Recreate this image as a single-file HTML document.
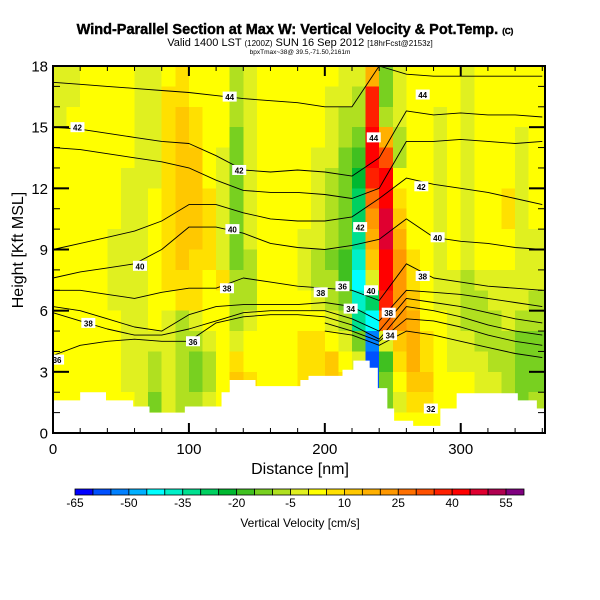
<!DOCTYPE html>
<html><head><meta charset="utf-8">
<style>
html,body{margin:0;padding:0;background:#fff;}
svg{display:block;font-family:"Liberation Sans",Arial,sans-serif;}
</style></head>
<body>
<svg id="chart" width="600" height="600" viewBox="0 0 600 600">
<rect width="600" height="600" fill="#fff"/>
<g>
<text x="295" y="34" text-anchor="middle" font-size="14.5" font-weight="bold" stroke="#000" stroke-width="0.4">Wind-Parallel Section at Max W: Vertical Velocity &amp; Pot.Temp. <tspan font-size="8">(C)</tspan></text>
<text x="300" y="46" text-anchor="middle" font-size="11">Valid 1400 LST <tspan font-size="8">(1200Z)</tspan> SUN 16 Sep 2012 <tspan font-size="8">[18hrFcst@2153z]</tspan></text>
<text x="300" y="54" text-anchor="middle" font-size="6.5">bpxTmax~38@ 39.5,-71.50,2161m</text>
</g>
<g id="field"></g>
<g id="terrain"></g>
<g id="contours"></g>
<g id="axes"></g>
<g id="cbar"></g>
<text x="300" y="474" text-anchor="middle" font-size="16">Distance [nm]</text>
<text transform="translate(23,250) rotate(-90)" text-anchor="middle" font-size="16">Height [Kft MSL]</text>
<text x="300" y="527" text-anchor="middle" font-size="12">Vertical Velocity [cm/s]</text>
</svg>
<script>
// ---- data ----
const colWidthNm = 10;
const xMaxNm = 362;
const yMaxKm = 18;
// rows from top (17-18 km) to bottom (0-1 km), 36 columns of 10 nm
const wRows = [
[-2,-2,2,2,2,2,-2,-2,2,7,2,2,2,-7,-2,2,2,2,2,2,2,-2,-2,15,-12,-2,2,2,2,2,-2,2,2,2,2,2],
[-2,-2,2,2,2,2,-2,-2,7,7,2,2,2,-7,-2,2,2,2,2,2,-2,-2,-7,35,-12,-2,2,2,2,2,-2,2,2,2,2,2],
[-2,2,2,2,2,2,-2,-2,7,12,7,2,2,-7,-2,2,2,2,2,2,-2,-7,-7,35,-7,-2,2,2,-2,2,-2,2,2,2,2,2],
[2,2,2,2,2,2,-2,-2,7,12,7,2,2,-12,-2,2,2,2,2,2,-2,-7,-12,40,15,-7,2,2,-2,2,-2,2,2,2,-2,2],
[2,2,2,2,2,2,-2,-2,7,12,12,2,-2,-12,-2,2,2,2,2,-2,-2,-12,-20,40,30,-7,2,2,-2,2,-2,2,2,2,-2,2],
[2,2,2,2,2,-2,-2,-2,7,12,12,2,-2,-15,-2,2,2,2,2,-2,-7,-12,-25,35,40,2,2,2,-2,2,-2,2,2,2,-2,2],
[2,2,2,2,2,-2,-2,2,7,12,12,7,-2,-15,-2,2,2,2,2,-2,-7,-12,-30,25,42,7,2,2,-2,2,-2,2,2,7,-2,2],
[2,2,2,2,2,-2,-2,2,7,12,12,7,-2,-15,-2,2,2,2,2,-2,-7,-15,-30,20,47,12,2,2,-2,2,-2,2,2,7,-2,2],
[2,2,2,2,-2,-2,-2,2,7,12,12,7,-2,-12,-2,2,2,2,-2,-2,-7,-15,-35,15,47,15,2,2,-2,2,-2,2,2,2,-2,-2],
[2,2,2,2,-2,-2,-2,2,7,12,7,7,-2,-12,-7,2,2,2,-2,-7,-12,-20,-40,10,42,20,7,2,-2,2,-2,2,2,2,-2,-2],
[2,2,2,2,-2,-2,-2,2,7,7,7,2,7,-7,-7,2,2,2,-2,-7,-7,-20,-45,-5,40,20,7,2,-2,-2,-7,-2,-2,-2,-2,-2],
[2,2,2,2,-2,-2,-2,2,2,7,7,2,2,-7,-7,2,2,2,2,-2,-7,-12,-40,-30,38,20,12,2,-2,-2,-7,-7,-2,-2,-2,-7],
[2,2,2,2,2,-2,-2,2,-2,-7,-2,2,2,-7,-2,2,2,2,2,2,-2,-7,-35,-45,25,20,15,2,2,-2,-7,-7,-7,-2,-7,-7],
[2,2,2,2,2,-2,-2,-2,-2,-7,-7,-2,2,-2,2,2,2,2,7,7,2,-2,-15,-55,-5,12,15,7,2,-2,-2,-7,-7,-7,-12,-12],
[2,2,2,2,2,-2,-2,-7,-2,-7,-12,-7,2,7,2,2,2,2,7,7,12,2,-5,-60,-20,7,15,7,2,-2,-2,-2,-7,-7,-12,-12],
[2,2,2,2,2,-2,-2,-7,-2,-7,-12,-7,2,12,7,2,2,2,7,7,12,7,2,-60,-15,2,12,12,2,2,2,-2,-2,-7,-12,-12],
[2,2,2,2,2,2,-2,-12,-2,-7,-7,-2,2,7,2,2,2,2,7,2,7,7,2,-30,-12,-2,7,7,2,2,2,-2,-2,-7,-12,-7],
[2,2,2,2,2,2,2,2,2,2,2,2,2,2,2,2,2,2,2,2,2,2,2,2,2,2,2,2,2,2,2,2,2,2,2,2]
];
// terrain steps: start distance (nm) and height (km)
const terrainStart = [0,20,39,59,71,97,124,130,149,182,188,213,221,233,239,246,251,265,285,297,342,356];
const terrainHeight = [1.6,2.0,1.6,1.3,1.0,1.3,2.0,2.6,2.3,2.6,2.8,3.1,3.55,3.2,2.2,1.2,0.6,0.35,1.2,1.95,1.6,1.2];
// contour heights (km) at distances 0,20,...,360 nm
const contourX = [0,20,40,60,80,100,120,140,160,180,200,220,240,260,280,300,320,340,360];
const thetaA = [17.2,17.1,17.0,16.9,16.8,16.7,16.55,16.4,16.3,16.2,16.0,16.0,18.0,17.6,17.5,17.5,17.5,17.5,17.5];
const thetaB = [15.0,14.9,14.7,14.5,14.3,14.2,13.6,12.9,12.8,12.9,12.8,12.6,13.5,15.8,15.6,15.7,15.6,15.6,15.5];
const thetaB2 = [14.0,13.9,13.7,13.5,13.3,13.0,12.4,11.9,11.8,11.8,11.7,11.5,12.0,14.3,14.3,14.4,14.3,14.2,14.3];
const thetaC1 = [9.0,9.3,9.6,9.9,10.4,11.2,11.2,10.8,10.5,10.4,10.4,10.6,11.5,12.5,12.2,12.0,11.8,11.5,11.2];
const thetaC2 = [7.6,7.9,8.1,8.3,9.0,10.1,10.1,9.8,9.3,9.1,9.0,9.2,9.5,10.5,9.6,9.4,9.3,9.1,9.0];
const thetaD = [7.0,7.0,6.8,6.6,6.9,7.1,7.1,7.6,7.4,7.2,7.1,7.0,6.5,8.3,7.6,7.4,7.2,7.1,7.0];
const thetaE = [6.2,6.0,5.6,5.2,5.0,5.8,6.2,6.3,6.3,6.3,6.4,6.2,5.5,7.0,6.9,6.8,6.6,6.4,6.2];
const thetaF = [5.9,5.5,5.1,4.8,4.8,5.1,5.5,5.9,6.0,6.0,6.0,5.6,5.0,6.6,6.4,6.2,5.9,5.6,5.4];
const thetaG = [3.8,4.3,4.5,4.6,4.5,4.5,5.4,5.7,5.8,5.8,5.7,5.3,4.6,6.2,6.0,5.7,5.3,5.0,4.8];
const thetaH = [null,null,null,null,null,null,null,null,null,null,5.4,5.0,4.5,5.6,5.5,5.2,4.8,4.5,4.3];
const thetaI = [null,null,null,null,null,null,null,null,null,null,5.0,4.8,4.3,5.0,4.8,4.5,4.2,3.9,3.7];
const labelX = [130,18,137,132,64,128,26,103,3,236,272,271,283,272,226,234,213,197,219,247,248,278];
const labelY = [16.5,15.0,12.9,10.0,8.2,7.1,5.4,4.5,3.6,14.5,16.6,12.1,9.6,7.7,10.1,7.0,7.2,6.9,6.1,5.9,4.8,1.2];
const labelText = ['44','42','42','40','40','38','38','36','36','44','44','42','40','38','42','40','36','38','34','38','34','32'];
const cbColors = ['#0000ff','#0050ff','#0080ff','#00b0ff','#00ffff','#00f0c8','#00e090','#00d060','#00b830','#40c020','#78d020','#b0e020','#e0f020','#ffff00','#ffe000','#ffc800','#ffb000','#ff9800','#ff7000','#ff5000','#ff2000','#ff0000','#e00030','#b00050','#800080'];
const cbTicks = [-65,-50,-35,-20,-5,10,25,40,55];
const xTicks = [0,100,200,300];
const yTicks = [0,3,6,9,12,15,18];
// ---- layout ----
const NS='http://www.w3.org/2000/svg';
const PL=53, PR=545, PT=66, PB=433;
const xs = d => PL + d*(PR-PL)/xMaxNm;
const ys = h => PB - h*(PB-PT)/yMaxKm;
const cbMin=-65, cbStep=5, CBL=75, CBR=524;
const cbx = v => CBL + (v-cbMin)/(cbStep*cbColors.length)*(CBR-CBL);
function colorFor(v){let i=Math.floor((v-cbMin)/cbStep);i=Math.max(0,Math.min(cbColors.length-1,i));return cbColors[i];}
function mk(tag,attrs,parent){const e=document.createElementNS(NS,tag);for(const k in attrs)e.setAttribute(k,attrs[k]);parent.appendChild(e);return e;}

const field=document.getElementById('field');
wRows.forEach((row,ri)=>{
  const top=yMaxKm-ri, bot=top-1;
  row.forEach((v,ci)=>{
    const x0=ci*colWidthNm, x1=Math.min((ci+1)*colWidthNm, xMaxNm);
    const r=mk('rect',{x:xs(x0),y:ys(top),width:xs(ci===row.length-1?xMaxNm:x1)-xs(x0)+0.6,height:ys(bot)-ys(top)+0.6,fill:colorFor(v),'shape-rendering':'crispEdges'},field);
    
    
  });
});

const terr=document.getElementById('terrain');
let tp='M'+xs(0)+','+ys(0);
terrainStart.forEach((s,i)=>{
  const e = i<terrainStart.length-1 ? terrainStart[i+1] : xMaxNm;
  tp+=' L'+xs(s)+','+ys(terrainHeight[i])+' L'+xs(e)+','+ys(terrainHeight[i]);
});
tp+=' L'+xs(xMaxNm)+','+ys(0)+' Z';
const tpath=mk('path',{d:tp,fill:'#fff',stroke:'none'},terr);



const cg=document.getElementById('contours');
[thetaA,thetaB,thetaB2,thetaC1,thetaC2,thetaD,thetaE,thetaF,thetaG,thetaH,thetaI].forEach(arr=>{
  let d='';let started=false;
  arr.forEach((h,i)=>{ if(h===null){started=false;return;} d+=(started?' L':' M')+xs(contourX[i]).toFixed(1)+','+ys(h).toFixed(1); started=true;});
  const p=mk('path',{d:d,fill:'none',stroke:'#000','stroke-width':0.9,'stroke-linejoin':'round'},cg);
  
  
});
labelX.forEach((lx,i)=>{
  const g=mk('g',{},cg);
  
  
  mk('rect',{x:xs(lx)-7,y:ys(labelY[i])-5,width:14,height:10,fill:'#fff'},g);
  const t=mk('text',{x:xs(lx),y:ys(labelY[i])+3.5,'text-anchor':'middle','font-size':8,'font-weight':'bold'},g);
  t.textContent=labelText[i];
});

const ax=document.getElementById('axes');
const fr=mk('rect',{x:PL,y:PT,width:PR-PL,height:PB-PT,fill:'none',stroke:'#000','stroke-width':2},ax);


for(let d=0; d<=xMaxNm; d+=20){
  const L = d%100===0?10:5;
  mk('line',{x1:xs(d),x2:xs(d),y1:PB,y2:PB-L,stroke:'#000','stroke-width':d%100===0?2:1},ax);
  mk('line',{x1:xs(d),x2:xs(d),y1:PT,y2:PT+L,stroke:'#000','stroke-width':d%100===0?2:1},ax);
}
for(let h=0; h<=yMaxKm; h++){
  const L = h%3===0?16:7;
  mk('line',{x1:PL,x2:PL+L,y1:ys(h),y2:ys(h),stroke:'#000','stroke-width':h%3===0?2:1},ax);
  mk('line',{x1:PR,x2:PR-L,y1:ys(h),y2:ys(h),stroke:'#000','stroke-width':h%3===0?2:1},ax);
}
xTicks.forEach(v=>{
  const t=mk('text',{x:xs(v),y:454,'text-anchor':'middle','font-size':15},ax);
  
  
  t.textContent=v;
});
yTicks.forEach(v=>{
  const t=mk('text',{x:48,y:ys(v)+5.5,'text-anchor':'end','font-size':15},ax);
  
  
  t.textContent=v;
});

const cb=document.getElementById('cbar');
cbColors.forEach((c,i)=>{
  const v=cbMin+i*cbStep;
  const r=mk('rect',{x:cbx(v),y:489,width:cbx(v+cbStep)-cbx(v),height:6,fill:c,stroke:'#000','stroke-width':0.8},cb);
  
  
});
cbTicks.forEach(v=>{
  const t=mk('text',{x:cbx(v),y:507,'text-anchor':'middle','font-size':12},cb);
  
  
  t.textContent=v;
});
</script>
</body></html>
